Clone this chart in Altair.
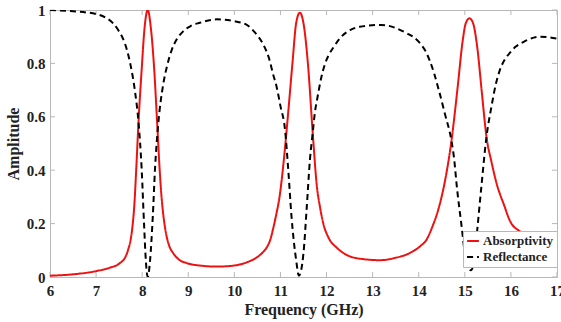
import altair as alt
import pandas as pd

# Absorptivity spectrum (frequency in GHz, amplitude)
abs_freq = [6.0, 6.5, 7.0, 7.3, 7.5, 7.65, 7.70, 7.75, 7.79, 7.83, 7.87, 7.92,
            7.99, 8.05, 8.12, 8.19, 8.26, 8.33, 8.38, 8.42, 8.46, 8.50, 8.58,
            8.67, 8.80, 8.97, 9.3, 9.62, 10.0, 10.27, 10.5, 10.62, 10.7, 10.78,
            10.84, 10.91, 10.98, 11.08, 11.17, 11.26, 11.34, 11.42, 11.50, 11.60,
            11.70, 11.79, 11.86, 11.93, 12.05, 12.22, 12.51, 12.8, 13.16, 13.5,
            13.81, 14.03, 14.17, 14.30, 14.42, 14.57, 14.71, 14.85, 14.95, 15.02,
            15.10, 15.18, 15.27, 15.37, 15.47, 15.58, 15.69, 15.85, 15.98, 16.2,
            16.5, 16.8, 17.0]
abs_amp = [0.005, 0.010, 0.022, 0.035, 0.050, 0.080, 0.105, 0.140, 0.190, 0.270,
           0.400, 0.580, 0.780, 0.930, 1.000, 0.930, 0.780, 0.560, 0.400, 0.300,
           0.230, 0.180, 0.120, 0.090, 0.065, 0.052, 0.042, 0.039, 0.043, 0.055,
           0.075, 0.093, 0.110, 0.140, 0.180, 0.235, 0.300, 0.450, 0.620, 0.800,
           0.950, 0.990, 0.950, 0.790, 0.540, 0.340, 0.260, 0.200, 0.145, 0.110,
           0.077, 0.067, 0.063, 0.072, 0.090, 0.115, 0.140, 0.190, 0.250, 0.360,
           0.510, 0.720, 0.880, 0.950, 0.969, 0.950, 0.860, 0.690, 0.525, 0.430,
           0.350, 0.270, 0.210, 0.170, 0.140, 0.120, 0.107]

# Reflectance spectrum (frequency in GHz, amplitude)
ref_freq = [6.0, 6.5, 7.0, 7.2, 7.37, 7.48, 7.59, 7.67, 7.74, 7.84, 7.92, 7.99,
            8.04, 8.08, 8.12, 8.17, 8.23, 8.28, 8.35, 8.46, 8.54, 8.64, 8.75,
            8.89, 9.05, 9.25, 9.62, 10.0, 10.27, 10.45, 10.63, 10.75, 10.84,
            10.92, 11.0, 11.10, 11.17, 11.24, 11.34, 11.40, 11.50, 11.57, 11.64,
            11.70, 11.75, 11.79, 11.89, 11.97, 12.06, 12.15, 12.29, 12.51, 12.72,
            13.19, 13.74, 13.9, 14.03, 14.14, 14.24, 14.33, 14.42, 14.57, 14.71,
            14.77, 14.82, 14.93, 15.0, 15.08, 15.13, 15.20, 15.26, 15.36, 15.47,
            15.58, 15.67, 15.76, 15.87, 15.98, 16.1, 16.27, 16.63, 17.0]
ref_amp = [1.000, 0.995, 0.985, 0.972, 0.950, 0.925, 0.890, 0.850, 0.800, 0.700,
           0.580, 0.400, 0.200, 0.060, 0.000, 0.060, 0.226, 0.410, 0.576, 0.725,
           0.790, 0.850, 0.890, 0.920, 0.940, 0.952, 0.965, 0.958, 0.944, 0.915,
           0.870, 0.820, 0.760, 0.710, 0.640, 0.550, 0.400, 0.226, 0.064, 0.005,
           0.090, 0.260, 0.440, 0.540, 0.620, 0.660, 0.750, 0.800, 0.835, 0.860,
           0.894, 0.925, 0.937, 0.944, 0.913, 0.897, 0.875, 0.848, 0.810, 0.765,
           0.710, 0.610, 0.510, 0.440, 0.350, 0.190, 0.090, 0.030, 0.025, 0.060,
           0.160, 0.340, 0.525, 0.640, 0.720, 0.775, 0.815, 0.840, 0.862, 0.880,
           0.900, 0.893]

x_ticks = [6, 7, 8, 9, 10, 11, 12, 13, 14, 15, 16, 17]
y_ticks = [0, 0.2, 0.4, 0.6, 0.8, 1]

series = ["Absorptivity", "Reflectance"]

df = pd.concat([
    pd.DataFrame({"freq": abs_freq, "amp": abs_amp, "series": series[0]}),
    pd.DataFrame({"freq": ref_freq, "amp": ref_amp, "series": series[1]}),
])

W, H = 507, 267
FONT = "Times New Roman, Liberation Serif, serif"
FRAME = "#b8b8b8"

xscale = alt.Scale(domain=[6, 17], nice=False, zero=False)
yscale = alt.Scale(domain=[0, 1], nice=False)

legend = alt.Legend(title=None, orient="none", legendX=413, legendY=221)

lines = alt.Chart(df).mark_line(strokeWidth=2, interpolate="monotone", clip=True).encode(
    x=alt.X("freq:Q", scale=xscale,
            axis=alt.Axis(values=x_ticks, format="d", title="Frequency (GHz)",
                          ticks=False, domain=False, grid=False, labelFlush=False,
                          labelPadding=6, titlePadding=3)),
    y=alt.Y("amp:Q", scale=yscale,
            axis=alt.Axis(values=y_ticks, format="~g", title="Amplitude",
                          ticks=False, domain=False, grid=False, labelFlush=False,
                          labelPadding=5, titlePadding=5)),
    color=alt.Color("series:N",
                    scale=alt.Scale(domain=series, range=["#ee1111", "#000000"]),
                    legend=legend),
    strokeDash=alt.StrokeDash("series:N",
                              scale=alt.Scale(domain=series, range=[[1, 0], [6, 4]]),
                              legend=legend),
    order=alt.Order("freq:Q"),
)

# Inward tick marks on all four sides of the box
xt = pd.DataFrame({"t": x_ticks})
yt = pd.DataFrame({"t": y_ticks})
tick_style = dict(color=FRAME, strokeWidth=1)
bottom_ticks = alt.Chart(xt).mark_rule(**tick_style).encode(
    x=alt.X("t:Q", scale=xscale), y=alt.value(H), y2=alt.value(H - 5))
top_ticks = alt.Chart(xt).mark_rule(**tick_style).encode(
    x=alt.X("t:Q", scale=xscale), y=alt.value(0), y2=alt.value(5))
left_ticks = alt.Chart(yt).mark_rule(**tick_style).encode(
    y=alt.Y("t:Q", scale=yscale), x=alt.value(0), x2=alt.value(5))
right_ticks = alt.Chart(yt).mark_rule(**tick_style).encode(
    y=alt.Y("t:Q", scale=yscale), x=alt.value(W), x2=alt.value(W - 5))

chart = alt.layer(
    bottom_ticks, top_ticks, left_ticks, right_ticks, lines
).properties(
    width=W, height=H,
    autosize=alt.AutoSizeParams(type="none"),
    padding={"left": 50, "top": 10, "right": 4, "bottom": 45},
).configure_view(
    stroke=FRAME, strokeWidth=1
).configure_axis(
    labelFont=FONT, labelFontWeight="bold", labelFontSize=15, labelColor="#222222",
    titleFont=FONT, titleFontWeight="bold", titleFontSize=16, titleColor="#222222",
).configure_legend(
    labelFont=FONT, labelFontWeight="bold", labelFontSize=13, labelColor="#222222",
    symbolType="stroke", symbolStrokeWidth=2, symbolSize=140,
    strokeColor=FRAME, fillColor="white", padding=3, rowPadding=2,
    labelOffset=3, cornerRadius=0,
)

chart.save("out.html", embed_options={"renderer": "svg", "actions": False})
